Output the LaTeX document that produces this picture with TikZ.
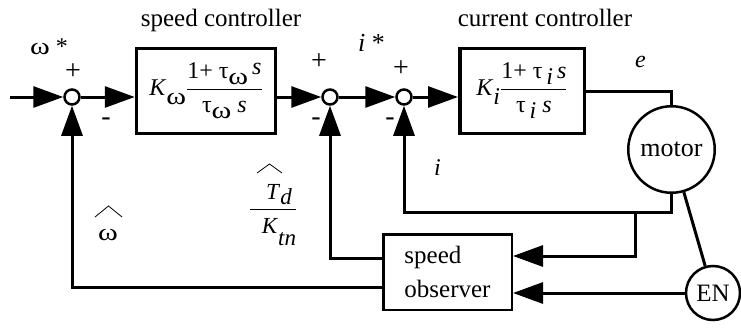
\documentclass[tikz,border=0pt]{standalone}
\usepackage{fontspec}
\setmainfont{Liberation Serif}
\usepackage{amsmath}
\usetikzlibrary{arrows.meta}
\newcommand{\lo}[2][0.25em]{\raisebox{-#1}{#2}}
\newcommand{\hi}[2][0.2em]{\raisebox{#1}{#2}}
\newcommand{\w}{\scalebox{1.25}[1]{ω}}
\newcommand{\myfrac}[2]{$\genfrac{}{}{1.3pt}{0}{\mbox{#1}}{\mbox{#2}}$}
\begin{document}
\begin{tikzpicture}[x=1pt,y=-1pt,
  lbl/.style={font=\fontsize{25}{30}\selectfont, inner sep=0pt},
  sm/.style={font=\fontsize{24}{28}\selectfont, inner sep=0pt},
  sgn/.style={font=\fontsize{28}{32}\selectfont, inner sep=0pt},
  blk/.style={draw, line width=3.5pt, inner sep=0pt, font=\fontsize{24}{28}\selectfont},
  sumj/.style={circle, draw, line width=2.5pt, minimum size=15pt, inner sep=0pt, fill=white},
  ln/.style={line width=3pt},
  hatline/.style={line width=0.8pt},
  arr/.style={line width=3pt, -{Triangle[length=30pt,width=21pt]}},
]
\useasboundingbox (0,0) rectangle (741,329);

% blocks
\node[blk, minimum width=139pt, minimum height=85pt] (sc) at (206,91)
  {\textit{K}\lo[0.35em]{\w}\myfrac{1+ τ\lo{\w}\,\hi{\textit{s}}}{τ\lo{\w} \textit{s}}};
\node[blk, minimum width=124.5pt, minimum height=85pt] (cc) at (522,91)
  {\textit{K}\lo[0.35em]{\textit{i}}\myfrac{1+ τ\,\lo{\textit{i}}\,\textit{s}}{τ\,\lo{\textit{i}} \textit{s}}};
\node[draw, line width=2.5pt, minimum width=128.5pt, minimum height=75.5pt, inner sep=0pt,
      font=\fontsize{25}{34}\selectfont, align=left] (obs) at (447.5,272) {speed\\observer};
\node[circle, draw, line width=2.5pt, minimum size=86.5pt, inner sep=0pt,
      font=\fontsize{26}{30}\selectfont] (motor) at (671.5,149.5) {motor};
\node[circle, draw, line width=2.5pt, minimum size=54pt, inner sep=0pt,
      font=\fontsize{25}{30}\selectfont] (EN) at (713,293) {EN};

% summing junctions
\node[sumj] (s1) at (72,97) {};
\node[sumj] (s2) at (330,97) {};
\node[sumj] (s3) at (404,97) {};

% connectors
\coordinate (in) at (10,97);
\coordinate (mb) at (671.5,212);
\coordinate (br) at (635,212);
\draw[arr] (in) -- (s1);
\draw[arr] (s1) -- (s1 -| sc.west);
\draw[arr] (s1 -| sc.east) -- (s2);
\draw[arr] (s2) -- (s3);
\draw[arr] (s3) -- (s3 -| cc.west);
\draw[ln] (cc.east) -| (motor.north);
\draw[arr] (motor.south) |- (s3 |- mb) -- (s3);
\draw[arr] (br) |- ([yshift=16pt]obs.east);
\draw[arr] (EN) -- (EN -| obs.east);
\draw[ln] (motor) -- (EN);
\draw[arr] ([yshift=14pt]obs.west) -| (s2);
\draw[arr] ([yshift=-15pt]obs.west) -| (s1);

% labels
\node[lbl, anchor=base] (t1) at (221,27) {speed controller};
\node[lbl, anchor=base] (t2) at (545,27) {current controller};
\node[sm, anchor=base west] (wref) at (30,55) {\w\ *};
\node[sgn] (p1) at (73,72) {+};
\node[sgn] (m1) at (106,122) {-};
\node[sgn] (p2) at (319,62) {+};
\node[sgn] (m2) at (316,122) {-};
\node[sgn] (p3) at (401,69) {+};
\node[sgn] (m3) at (390,122) {-};
\node[sm, font=\fontsize{26}{30}\selectfont, anchor=base west] (istar) at (358,52) {\textit{i} *};
\node[sm, anchor=base west] (elab) at (635,67) {\textit{e}};
\node[sm, anchor=base west] (ilab) at (434,175) {\textit{i}};
\node[sm, anchor=base] (what) at (108,240) {\w};
\draw[hatline] (95,217) -- (108.5,206) -- (122,217);
\node[sm, font=\fontsize{23}{28}\selectfont, anchor=center] (tdk) at (273,215)
  {\myfrac{\hspace{12pt}\textit{T}\lo[0.25em]{\textit{d}}}{\hspace{12pt}\textit{K}\lo[0.55em]{\textit{tn}}}};
\draw[hatline] (257,173) -- (269.5,164) -- (282,173);
\end{tikzpicture}
\end{document}
